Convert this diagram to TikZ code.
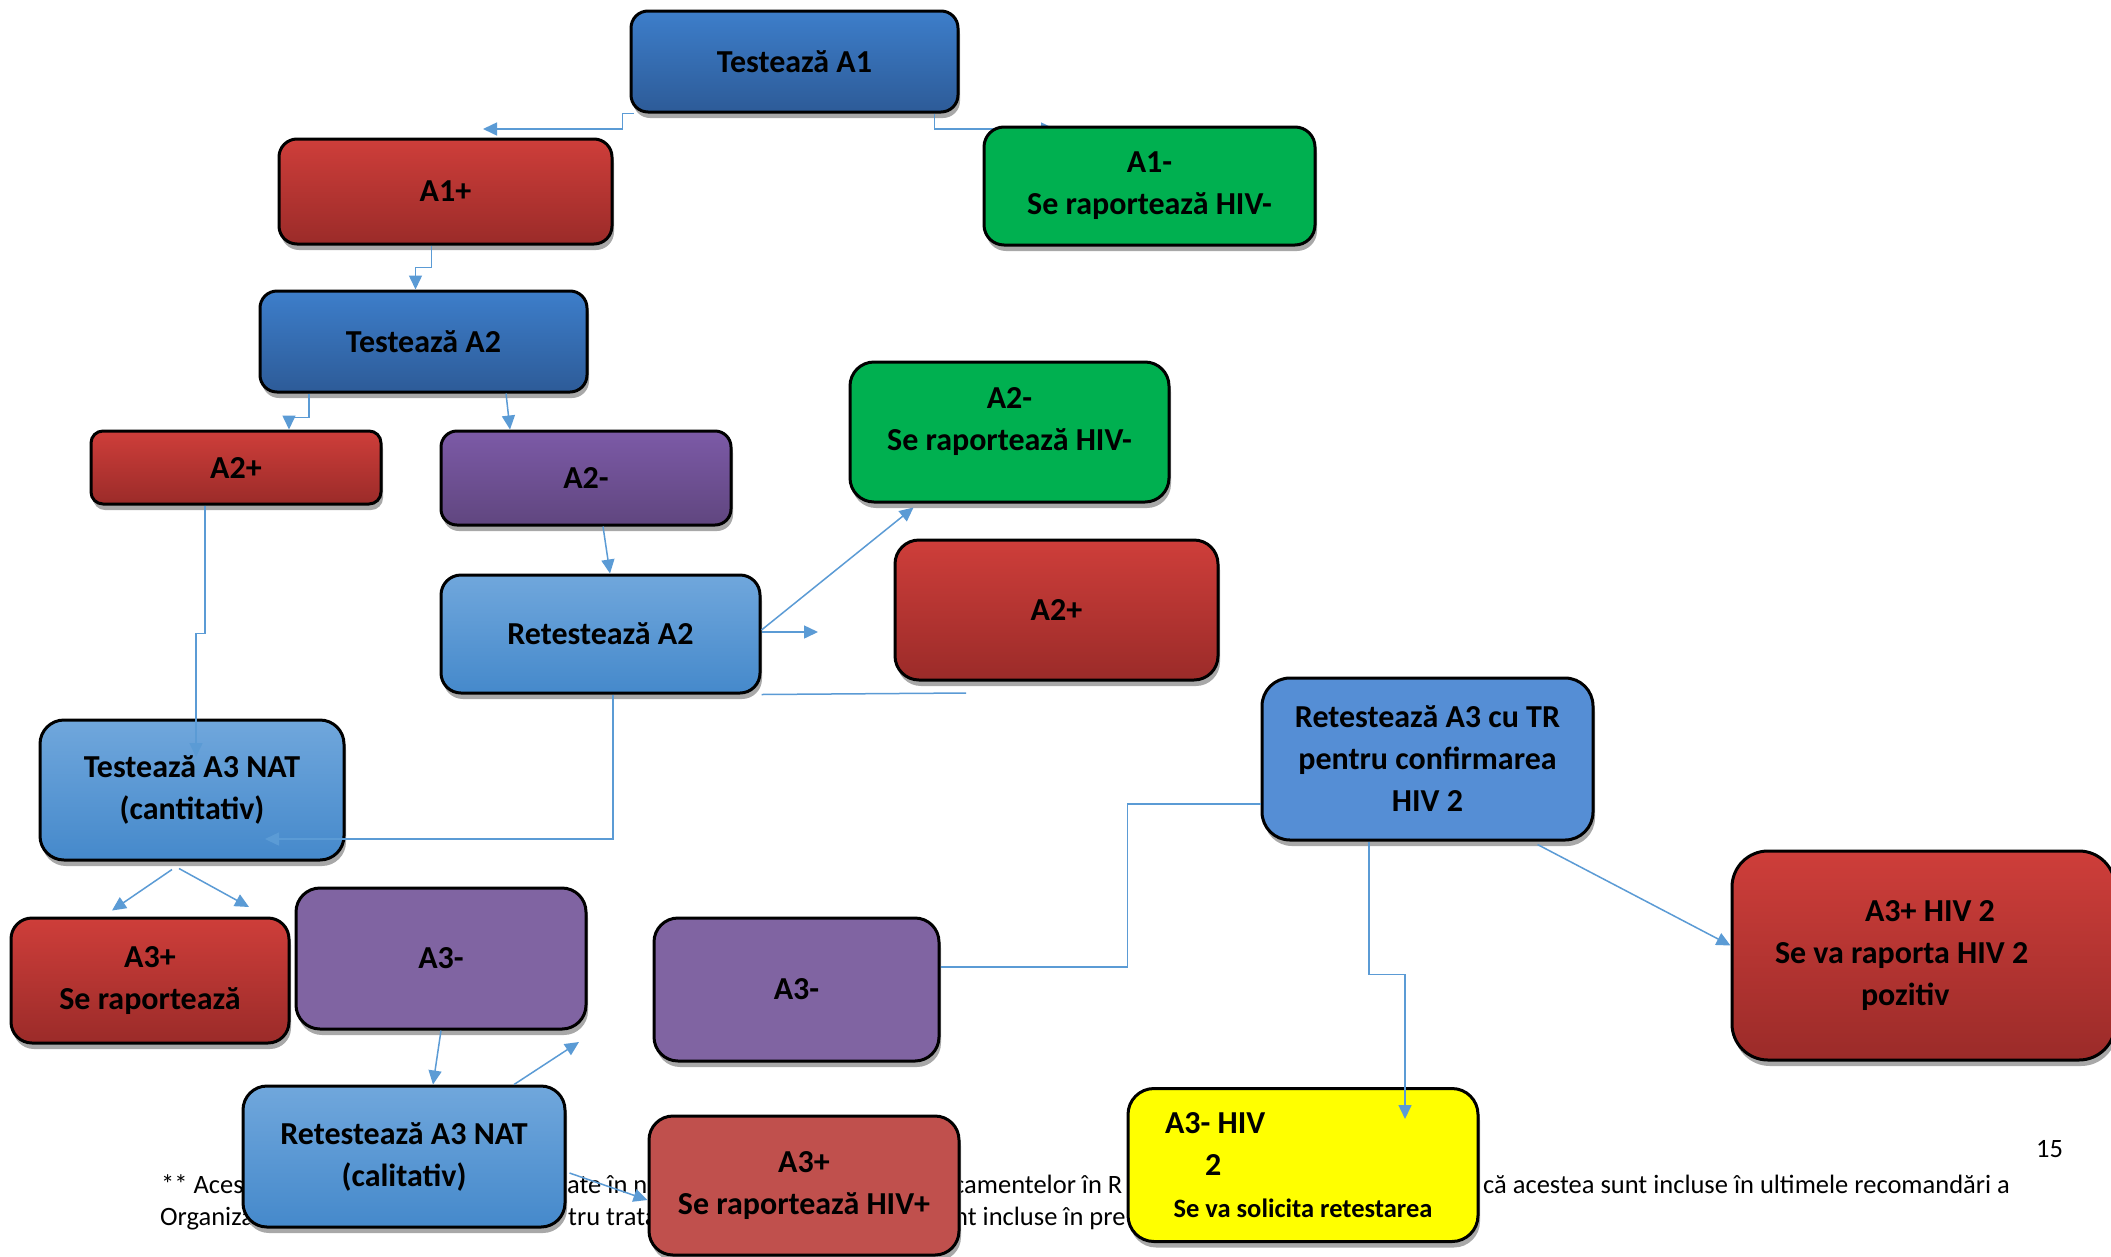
\documentclass[tikz,border=0pt]{standalone}
\usepackage{fontspec}
\setmainfont{Carlito}
\usetikzlibrary{arrows.meta,shadows,calc}
\definecolor{dblueT}{RGB}{61,126,202}
\definecolor{dblueB}{RGB}{45,91,152}
\definecolor{redT}{RGB}{206,62,58}
\definecolor{redB}{RGB}{155,43,41}
\definecolor{purT}{RGB}{124,90,167}
\definecolor{purB}{RGB}{96,70,127}
\definecolor{lblueT}{RGB}{112,167,220}
\definecolor{lblueB}{RGB}{69,137,203}
\definecolor{grn}{RGB}{0,176,80}
\definecolor{purp}{RGB}{128,100,162}
\definecolor{tblue}{RGB}{85,142,213}
\definecolor{hivred}{RGB}{192,80,77}
\definecolor{yel}{RGB}{255,255,0}
\definecolor{lnblue}{RGB}{91,155,213}
\definecolor{shgray}{RGB}{168,168,168}
\tikzset{
  box/.style={draw=black, line width=3pt, rounded corners=#1, inner sep=0pt,
    align=center, text=black, font=\bfseries\fontsize{32}{42}\selectfont,
    drop shadow={shadow xshift=2pt,shadow yshift=-6pt,fill=shgray,opacity=1}},
  box/.default=20pt,
  gblue/.style={top color=dblueT,bottom color=dblueB},
  gred/.style={top color=redT,bottom color=redB},
  gpur/.style={top color=purT,bottom color=purB},
  glblue/.style={top color=lblueT,bottom color=lblueB},
  conn/.style={draw=lnblue, line width=1.5pt},
  arr/.style={conn, -{Triangle[length=14pt,width=13pt]}},
  fn/.style={anchor=base west, inner sep=0pt, font=\fontsize{26.5}{32}\selectfont, text=black}
}
\begin{document}
\begin{tikzpicture}[x=1pt,y=-1pt]
\useasboundingbox (0,0) rectangle (2111,1256);
\fill[white] (0,0) rectangle (2111,1256);
% footnote fragments (behind boxes)
\node[fn] (f1) at (161,1193) {** Aces};
\node[fn] (f2) at (567,1193) {ate în no};
\node[fn] (f3) at (953,1193) {camentelor în R};
\node[fn] (f4) at (1483,1193) {că acestea sunt incluse în ultimele recomandări a};
\node[fn] (f5) at (160,1225) {Organiza};
\node[fn] (f6) at (568,1225) {tru trata};
\node[fn] (f7) at (954,1225) {nt incluse în pre};
\node[fn] (pg) at (2036,1157) {15};

\coordinate (e1) at (483,129);
\coordinate (e2) at (1055,129);
\coordinate (e8) at (818,632);
\coordinate (e9) at (966,693);
\coordinate (e13) at (249,907);
\coordinate (e15) at (579,1042);

\node[box=17pt, gblue, minimum width=327pt, minimum height=101pt] (t1) at (794.5,61.5) {Testează A1};
\draw[arr] ([xshift=-25pt]t1.south east) |- (e2);

\node[box=18pt, gred, minimum width=333pt, minimum height=105pt] (a1p) at (445.5,191.5) {A1+};
\node[box=20pt, fill=grn, minimum width=331pt, minimum height=118pt] (a1m) at (1149.5,186) {A1-\\Se raportează HIV-};
\node[box=17pt, gblue, minimum width=327pt, minimum height=101pt] (t2) at (423.5,341.5) {Testează A2};
\node[box=12pt, gred, minimum width=290pt, minimum height=73pt] (a2p) at (236,467.5) {A2+};
\node[box=16pt, gpur, minimum width=290pt, minimum height=94pt] (a2m) at (586,478) {A2-};
\node[box=24pt, fill=grn, minimum width=319pt, minimum height=140pt] (a2ng) at (1009.5,432) {A2-\\Se raportează HIV-\\[-16pt]\mbox{}};
\node[box=24pt, gred, minimum width=323pt, minimum height=140pt] (a2pb) at (1056.5,610) {A2+};
\node[box=20pt, glblue, minimum width=319pt, minimum height=118pt] (rt2) at (600.5,634) {Retestează A2};
\node[box=24pt, glblue, minimum width=304pt, minimum height=140pt] (t3) at (192,790) {Testează A3 NAT\\(cantitativ)};
\node[box=28pt, fill=tblue, minimum width=331pt, minimum height=162pt] (rtr) at (1427.5,759) {Retestează A3 cu TR\\pentru confirmarea\\HIV 2};
\node[box=21pt, gred, minimum width=278pt, minimum height=125pt] (a3p) at (150,980.5) {A3+\\Se raportează};
\node[box=24pt, fill=purp, minimum width=290pt, minimum height=141pt] (a3m1) at (441,958.5) {A3-};
\node[box=24pt, fill=purp, minimum width=285pt, minimum height=143pt] (a3m2) at (796.5,989.5) {A3-};
\node[box=36pt, gred, minimum width=383pt, minimum height=209pt] (a3h2) at (1923.5,955.5) {\makebox[383pt][l]{\hspace*{133pt}A3+ HIV 2}\\\makebox[383pt][l]{\hspace*{43pt}Se va raporta HIV 2}\\\makebox[383pt][l]{\hspace*{129pt}pozitiv}};
\node[box=26pt, fill=yel, minimum width=350pt, minimum height=153pt] (yel) at (1303,1165) {\makebox[350pt][l]{\hspace*{37pt}A3- HIV}\\\makebox[350pt][l]{\hspace*{77pt}2}\\\makebox[350pt][c]{\fontsize{26.5}{42}\selectfont Se va solicita retestarea}};
\node[box=24pt, glblue, minimum width=322pt, minimum height=141pt] (rt3) at (404,1156.5) {Retestează A3 NAT\\(calitativ)};
\node[box=24pt, fill=hivred, minimum width=310pt, minimum height=139pt] (a3phiv) at (804,1185.5) {A3+\\Se raportează HIV+};

% connectors
\draw[arr] ([xshift=4pt]t1.south west) -- ++(-11,0) |- (e1);
\draw[arr] ([xshift=-14pt]a1p.south) -- ++(0,22) -| ([xshift=-8pt]t2.north);
\draw[arr] ([xshift=-114.5pt]t2.south) -- ++(0,24) -| ([xshift=53pt]a2p.north);
\draw[arr] ([xshift=82.5pt]t2.south) -- ([xshift=-76pt]a2m.north);
\draw[arr] ([xshift=17pt]a2m.south) -- ([xshift=9.5pt]rt2.north);
\draw[arr] ([yshift=4pt]rt2.east) -- ([xshift=-96pt,yshift=-4pt]a2ng.south);
\draw[arr] ([yshift=2pt]rt2.east) -- (e8);
\draw[conn] (rt2.south east) -- (e9);
\draw[arr] ([xshift=12.5pt]rt2.south) |- ([xshift=73pt,yshift=-49pt]t3.center);
\draw[arr] ([xshift=-31pt]a2p.south) -- ++(0,128) -| ([xshift=4pt,yshift=33pt]t3.center);
\draw[arr] ([xshift=-20pt,yshift=-8pt]t3.south) -- ([xshift=-38pt,yshift=6pt]a3p.north);
\draw[arr] ([xshift=-13pt,yshift=-7pt]t3.south) -- (e13);
\draw[arr] (a3m1.south) -- ([xshift=29pt]rt3.north);
\draw[arr] ([xshift=110pt]rt3.north) -- (e15);
\draw[arr] ([xshift=3pt,yshift=-16.5pt]rt3.east) -- ([yshift=-14.5pt]a3phiv.west);
\draw[conn] ([yshift=22.5pt]a3m2.east) -- ++(187,0) |- ([yshift=-45pt]rtr.west);
\draw[arr] ([xshift=-58.5pt]rtr.south) -- ++(0,133) -| ([xshift=102pt,yshift=46pt]yel.center);
\draw[arr] ([xshift=-57pt,yshift=-3pt]rtr.south east) -- ([yshift=10pt]a3h2.west);
\end{tikzpicture}
\end{document}
